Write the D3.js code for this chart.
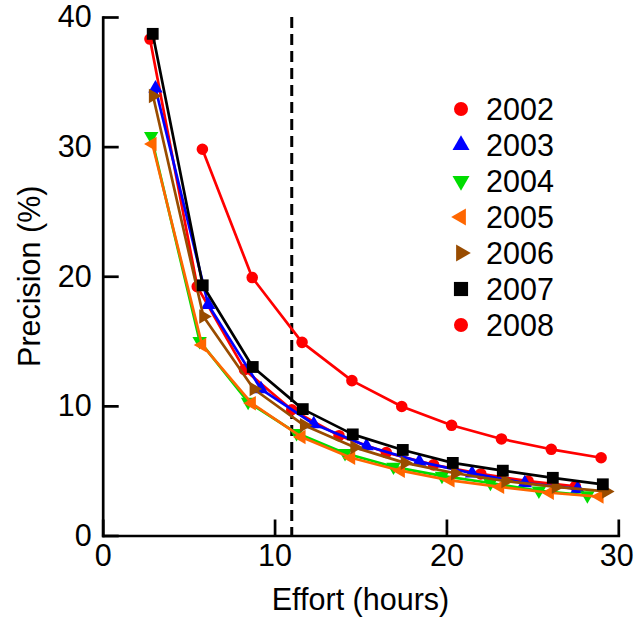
<!DOCTYPE html>
<html>
<head>
<meta charset="utf-8">
<script src="https://cdn.jsdelivr.net/npm/d3@7"></script>
<style>
  html, body { margin: 0; padding: 0; background: #fff; }
  svg { display: block; font-family: "Liberation Sans", Arial, Helvetica, sans-serif; }
</style>
</head>
<body>
<svg id="chart" width="635" height="617"></svg>
<script>
// ---- data ----
const years = ["2002", "2003", "2004", "2005", "2006", "2007", "2008"];
const effort2002 = [2.75, 5.5, 8.25, 11, 13.75, 16.5, 19.25, 22, 24.75, 27.5];
const precision2002 = [38.3, 19.2, 12.8, 9.7, 7.7, 6.4, 5.45, 4.75, 4.2, 3.8];
const effort2003 = [3.07, 6.14, 9.21, 12.28, 15.35, 18.42, 21.49, 24.56, 27.63];
const precision2003 = [34.5, 17.8, 11.3, 8.6, 6.9, 5.7, 4.8, 4.05, 3.6];
const effort2004 = [2.82, 5.64, 8.46, 11.28, 14.1, 16.92, 19.74, 22.56, 25.38, 28.2];
const precision2004 = [30.8, 15.0, 10.3, 7.9, 6.35, 5.3, 4.6, 4.05, 3.45, 3.1];
const effort2005 = [2.89, 5.78, 8.67, 11.56, 14.45, 17.34, 20.23, 23.12, 26.01, 28.9];
const precision2005 = [30.2, 14.7, 10.2, 7.6, 6.0, 5.0, 4.25, 3.75, 3.3, 3.0];
const effort2006 = [2.93, 5.86, 8.79, 11.72, 14.65, 17.58, 20.51, 23.44, 26.37, 29.3];
const precision2006 = [33.9, 16.9, 11.3, 8.5, 6.8, 5.6, 4.8, 4.2, 3.75, 3.4];
const effort2007 = [2.91, 5.82, 8.73, 11.64, 14.55, 17.46, 20.37, 23.28, 26.19, 29.1];
const precision2007 = [38.7, 19.3, 13.0, 9.75, 7.8, 6.6, 5.6, 5.0, 4.45, 3.95];
const effort2008 = [5.8, 8.7, 11.6, 14.5, 17.4, 20.3, 23.2, 26.1, 29.0];
const precision2008 = [29.8, 19.9, 14.9, 11.95, 9.95, 8.5, 7.45, 6.65, 6.0];
const xTicks = [0, 10, 20, 30];
const yTicks = [0, 10, 20, 30, 40];
const cutoffEffort = 11;
const xLabel = "Effort (hours)";
const yLabel = "Precision (%)";

const efforts = [effort2002, effort2003, effort2004, effort2005, effort2006, effort2007, effort2008];
const precisions = [precision2002, precision2003, precision2004, precision2005, precision2006, precision2007, precision2008];
const colors = ["#ff0000", "#0000ff", "#00dd00", "#ff6600", "#994c00", "#000000", "#ff0000"];
// marker: [symbol type, rotation]
const markers = [
  [d3.symbolCircle, 0], [d3.symbolTriangle, 0], [d3.symbolTriangle, 180],
  [d3.symbolTriangle, -90], [d3.symbolTriangle, 90], [d3.symbolSquare, 0], [d3.symbolCircle, 0]
];

const series = years.map((y, i) => ({
  year: y, color: colors[i], marker: markers[i],
  points: efforts[i].map((e, j) => ({ x: e, y: precisions[i][j] }))
}));

// ---- layout ----
const svg = d3.select("#chart");
const x = d3.scaleLinear().domain([0, 30]).range([102.7, 618.3]);
const y = d3.scaleLinear().domain([0, 40]).range([535.5, 17]);
const fontSize = 30.5;
const lw = 2.7;

function symSize(type, big) {
  if (type === d3.symbolCircle) return big ? 155 : 105;
  if (type === d3.symbolSquare) return big ? 200 : 140;
  return big ? 125 : 90;
}

// dashed cutoff line
svg.append("line")
  .attr("x1", x(cutoffEffort)).attr("x2", x(cutoffEffort))
  .attr("y1", y(40)).attr("y2", y(0))
  .attr("stroke", "#000").attr("stroke-width", 3)
  .attr("stroke-dasharray", "11,6");

// series
const line = d3.line().x(d => x(d.x)).y(d => y(d.y));
series.forEach(s => {
  const g = svg.append("g");
  g.append("path").datum(s.points)
    .attr("d", line).attr("fill", "none")
    .attr("stroke", s.color).attr("stroke-width", lw).attr("stroke-linejoin", "round");
  g.selectAll("path.m").data(s.points).join("path")
    .attr("class", "m")
    .attr("d", d3.symbol().type(s.marker[0]).size(symSize(s.marker[0], false)))
    .attr("transform", d => `translate(${x(d.x)},${y(d.y)}) rotate(${s.marker[1]})`)
    .attr("fill", s.color);
});

// axes
const xAxis = d3.axisBottom(x).tickValues(xTicks).tickSizeInner(-16).tickSizeOuter(0).tickPadding(9);
const yAxis = d3.axisLeft(y).tickValues(yTicks).tickSizeInner(-16).tickSizeOuter(0).tickPadding(11);

const gx = svg.append("g").attr("transform", `translate(0,${y(0)})`).call(xAxis);
const gy = svg.append("g").attr("transform", `translate(${x(0)},0)`).call(yAxis);
[gx, gy].forEach(g => {
  g.select(".domain").attr("stroke", "#000").attr("stroke-width", lw).attr("stroke-linecap", "square");
  g.selectAll(".tick line").attr("stroke", "#000").attr("stroke-width", lw);
  g.selectAll(".tick text").attr("fill", "#000")
    .style("font-size", fontSize + "px")
    .style("font-family", '"Liberation Sans", Arial, Helvetica, sans-serif');
});
// keep the last x tick label inside the picture
gx.selectAll(".tick text").filter(d => d === 30).attr("dx", -2);

// axis titles
svg.append("text")
  .attr("x", (x(0) + x(30)) / 2).attr("y", 610)
  .attr("text-anchor", "middle").attr("font-size", fontSize).attr("fill", "#000")
  .text(xLabel);
svg.append("text")
  .attr("transform", `translate(40,${(y(0) + y(40)) / 2}) rotate(-90)`)
  .attr("text-anchor", "middle").attr("font-size", fontSize).attr("fill", "#000")
  .text(yLabel);

// legend
const legend = svg.append("g").attr("transform", "translate(461,109)");
series.forEach((s, i) => {
  const row = legend.append("g").attr("transform", `translate(0,${i * 36})`);
  row.append("path")
    .attr("d", d3.symbol().type(s.marker[0]).size(symSize(s.marker[0], true)))
    .attr("transform", `rotate(${s.marker[1]})`)
    .attr("fill", s.color);
  row.append("text")
    .attr("x", 25).attr("y", 0).attr("dy", "0.36em")
    .attr("font-size", fontSize).attr("fill", "#000")
    .text(s.year);
});
</script>
</body>
</html>
